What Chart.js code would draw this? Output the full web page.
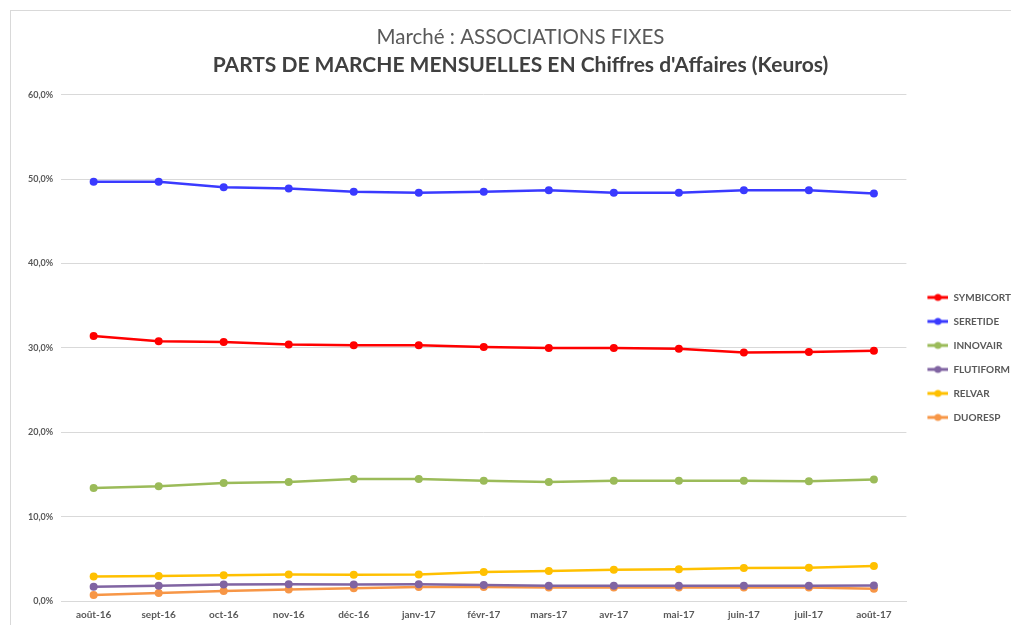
<!DOCTYPE html>
<html>
<head>
<meta charset="utf-8">
<script src="https://cdn.jsdelivr.net/npm/chart.js@4/dist/chart.umd.min.js"></script>
<style>
  html, body { margin: 0; padding: 0; background: #fff; overflow: hidden; }
  #frame { position: absolute; left: 10px; top: 10px; width: 1100px; height: 700px;
           border-left: 1px solid #d9d9d9; border-top: 1px solid #d9d9d9; }
  #wrap { position: absolute; left: 0; top: 0; width: 1011px; height: 625px; }
</style>
</head>
<body>
<div id="frame"></div>
<div id="wrap"><canvas id="myChart"></canvas></div>
<script>
  const months = ['août-16', 'sept-16', 'oct-16', 'nov-16', 'déc-16', 'janv-17', 'févr-17',
                  'mars-17', 'avr-17', 'mai-17', 'juin-17', 'juil-17', 'août-17'];

  const symbicort = [31.4, 30.8, 30.7, 30.4, 30.3, 30.3, 30.1, 30.0, 30.0, 29.9, 29.45, 29.5, 29.65];
  const seretide  = [49.7, 49.7, 49.05, 48.9, 48.5, 48.4, 48.5, 48.7, 48.4, 48.4, 48.7, 48.7, 48.3];
  const innovair  = [13.4, 13.6, 14.0, 14.1, 14.45, 14.45, 14.25, 14.1, 14.25, 14.25, 14.25, 14.2, 14.4];
  const flutiform = [1.7, 1.8, 1.95, 2.0, 1.95, 2.0, 1.9, 1.8, 1.8, 1.8, 1.8, 1.8, 1.85];
  const relvar    = [2.9, 2.95, 3.05, 3.15, 3.1, 3.15, 3.45, 3.55, 3.7, 3.75, 3.9, 3.95, 4.15];
  const duoresp   = [0.7, 0.95, 1.2, 1.35, 1.5, 1.65, 1.65, 1.6, 1.6, 1.6, 1.6, 1.6, 1.45];

  const yTicks = [0, 10, 20, 30, 40, 50, 60];

  // little "line + dot" marker for the legend, like Excel's (blank margin on the left)
  function legendMarker(color) {
    const c = document.createElement('canvas');
    c.width = 28; c.height = 10;
    const g = c.getContext('2d');
    g.strokeStyle = color; g.lineWidth = 3;
    g.beginPath(); g.moveTo(7, 5); g.lineTo(28, 5); g.stroke();
    g.fillStyle = color;
    g.beginPath(); g.arc(17.5, 5, 3.5, 0, Math.PI * 2); g.fill();
    return c;
  }

  function serie(label, data, color) {
    return {
      label: label,
      data: data,
      borderColor: color,
      backgroundColor: color,
      borderWidth: 2.5,
      pointRadius: 4,
      pointBackgroundColor: color,
      pointBorderWidth: 0,
      pointStyle: 'circle',
      tension: 0,
      legendMarker: legendMarker(color)
    };
  }

  const ctx = document.getElementById('myChart');

  new Chart(ctx, {
    type: 'line',
    data: {
      labels: months,
      datasets: [
        serie('SYMBICORT', symbicort, '#ff0000'),
        serie('SERETIDE', seretide, '#3a3aff'),
        serie('INNOVAIR', innovair, '#9bbb59'),
        serie('FLUTIFORM', flutiform, '#8064a2'),
        serie('RELVAR', relvar, '#ffc000'),
        serie('DUORESP', duoresp, '#f79646')
      ]
    },
    options: {
      responsive: true,
      maintainAspectRatio: false,
      animation: false,
      layout: { padding: { left: 20, right: -10, top: 25, bottom: 4 } },
      plugins: {
        title: {
          display: true,
          text: 'Marché : ASSOCIATIONS FIXES',
          color: '#595959',
          font: { family: 'Lato', size: 20.5, weight: 'normal' },
          padding: { top: 0, bottom: 3 }
        },
        subtitle: {
          display: true,
          text: "PARTS DE MARCHE MENSUELLES EN Chiffres d'Affaires (Keuros)",
          color: '#404040',
          font: { family: 'Lato', size: 21, weight: 'bold' },
          padding: { top: 0, bottom: 17 }
        },
        legend: {
          position: 'right',
          title: {
            display: true,
            text: ' ',
            font: { size: 9 },
            padding: { top: 58, bottom: 0 }
          },
          labels: {
            color: '#595959',
            font: { family: 'Lato', size: 10, weight: 'bold' },
            usePointStyle: true,
            pointStyleWidth: 28,
            padding: 14,
            generateLabels: function (chart) {
              return chart.data.datasets.map(function (ds, i) {
                return {
                  text: ds.label,
                  fillStyle: ds.borderColor,
                  strokeStyle: ds.borderColor,
                  fontColor: '#595959',
                  pointStyle: ds.legendMarker,
                  datasetIndex: i,
                  hidden: false
                };
              });
            }
          }
        },
        tooltip: { enabled: false }
      },
      scales: {
        x: {
          offset: true,
          grid: { display: false },
          border: { color: '#d9d9d9', width: 1 },
          ticks: {
            color: '#595959',
            font: { family: 'Lato', size: 10, weight: 'bold' },
            maxRotation: 0,
            autoSkip: false,
            padding: 0
          }
        },
        y: {
          min: 0,
          max: 60,
          afterBuildTicks: function (axis) {
            axis.ticks = yTicks.map(function (v) { return { value: v }; });
          },
          grid: { color: '#d9d9d9', drawTicks: false },
          border: { display: false },
          ticks: {
            color: '#595959',
            font: { family: 'Lato', size: 9, weight: 'bold' },
            padding: 8,
            callback: function (v) { return v.toFixed(1).replace('.', ',') + '%'; }
          }
        }
      }
    }
  });
</script>
</body>
</html>
